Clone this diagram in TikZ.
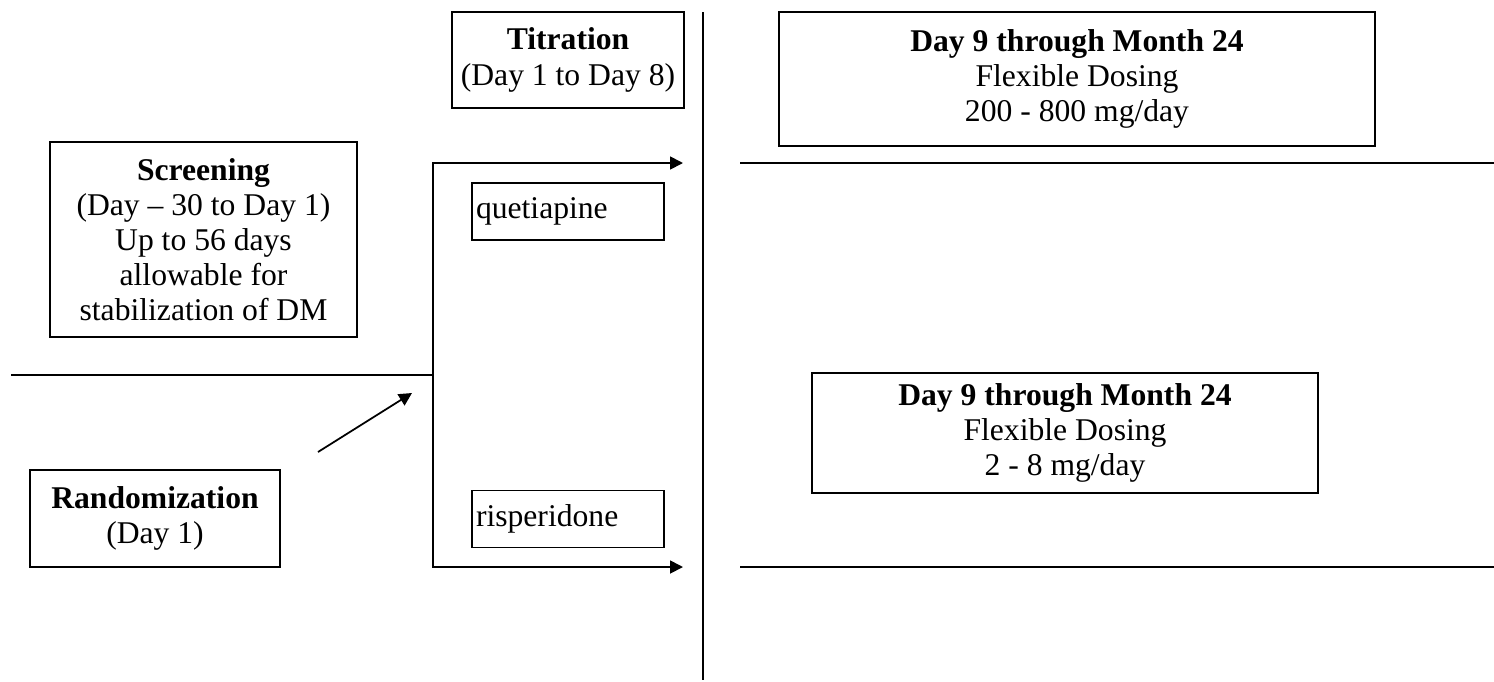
\documentclass[tikz,border=0pt]{standalone}
\usepackage{fontspec}
\setmainfont{Liberation Serif}
\usetikzlibrary{arrows.meta}

\begin{document}
\begin{tikzpicture}[
  line width=1pt,
  every node/.style={font=\fontsize{18}{20}\selectfont},
  phase/.style={draw, align=center, inner sep=0pt},
  drug/.style={draw, align=left, inner sep=0.08cm, text width=3.68cm, minimum height=1.14cm},
  >={Triangle[length=0.26cm, width=0.26cm]}
]
  \useasboundingbox (0,0) rectangle (29.88,-13.62);

  % Left: screening and randomization
  \node[phase, minimum width=6.14cm, minimum height=3.9cm] (screen) at (4.07,-4.79)
    {\textbf{Screening}\\(Day -- 30 to Day 1)\\Up to 56 days\\allowable for\\stabilization of DM};
  \node[phase, minimum width=5.0cm, minimum height=1.94cm] (rand) at (3.10,-10.37)
    {\textbf{Randomization}\\(Day 1)};

  % Titration
  \node[phase, minimum width=4.64cm, minimum height=1.92cm] (titr) at (11.36,-1.20)
    {\textbf{Titration}\\(Day 1 to Day 8)};
  \node[drug] (quet) at (11.36,-4.23) {quetiapine};
  \node[drug] (risp) at (11.36,-10.38) {risperidone};

  % Maintenance
  \node[phase, minimum width=11.92cm, minimum height=2.68cm] (flexq) at (21.54,-1.58)
    {\textbf{Day 9 through Month 24}\\Flexible Dosing\\200 - 800 mg/day};
  \node[phase, minimum width=10.12cm, minimum height=2.4cm] (flexr) at (21.30,-8.66)
    {\textbf{Day 9 through Month 24}\\Flexible Dosing\\2 - 8 mg/day};

  % Timeline points
  \coordinate (divtop) at (14.06,-0.24);
  \coordinate (divbot) at (14.06,-13.60);
  \coordinate (lstart) at (0.22,-7.50);
  \coordinate (split) at (8.66,-7.50);
  \coordinate (qtop) at (8.66,-3.26);
  \coordinate (rbot) at (8.66,-11.34);
  \coordinate (qend) at (13.66,-3.26);
  \coordinate (rend) at (13.66,-11.34);
  \coordinate (qline) at (14.80,-3.26);
  \coordinate (qfar) at (29.88,-3.26);
  \coordinate (rline) at (14.80,-11.34);
  \coordinate (rfar) at (29.88,-11.34);
  \coordinate (rtail) at (6.36,-9.04);
  \coordinate (rhead) at (8.24,-7.86);

  % Lines
  \draw (divtop) -- (divbot);
  \draw (lstart) -- (split);
  \draw[->] (split) -- (qtop) -- (qend);
  \draw[->] (split) -- (rbot) -- (rend);
  \draw (qline) -- (qfar);
  \draw (rline) -- (rfar);
  \draw[->] (rtail) -- (rhead);
\end{tikzpicture}
\end{document}
